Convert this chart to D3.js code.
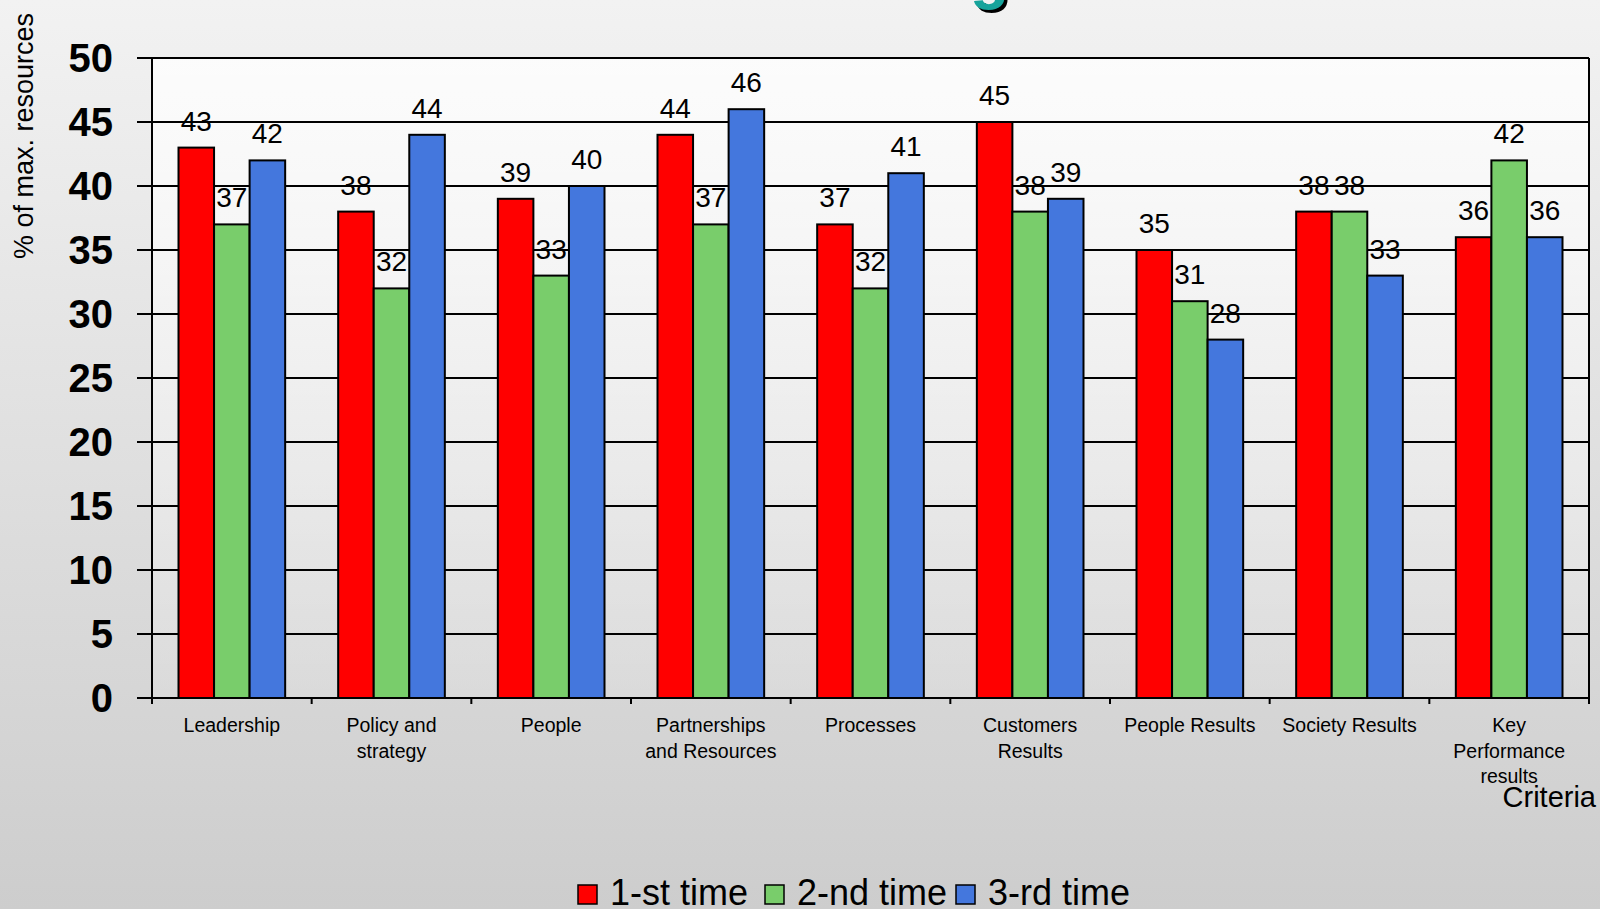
<!DOCTYPE html>
<html>
<head>
<meta charset="utf-8">
<script src="https://cdn.jsdelivr.net/npm/d3@7"></script>
<style>
  html, body { margin: 0; padding: 0; overflow: hidden; }
  svg { display: block; font-family: "Liberation Sans", Arial, sans-serif; }
</style>
</head>
<body>
<svg width="1600" height="909"></svg>
<script>
var categories = [
    ["Leadership"],
    ["Policy and", "strategy"],
    ["People"],
    ["Partnerships", "and Resources"],
    ["Processes"],
    ["Customers", "Results"],
    ["People Results"],
    ["Society Results"],
    ["Key", "Performance", "results"]
];
var seriesNames = ["1-st time", "2-nd time", "3-rd time"];
var firstTime  = [43, 38, 39, 44, 37, 45, 35, 38, 36];
var secondTime = [37, 32, 33, 37, 32, 38, 31, 38, 42];
var thirdTime  = [42, 44, 40, 46, 41, 39, 28, 33, 36];
var yTicks = [0, 5, 10, 15, 20, 25, 30, 35, 40, 45, 50];
var colors = ["#ff0000", "#79cd6b", "#4477dd"];

var svg = d3.select("svg"),
    width = +svg.attr("width"),
    height = +svg.attr("height");

var series = [firstTime, secondTime, thirdTime];
var catKeys = categories.map(function (c) { return c.join(" "); });

// background
var defs = svg.append("defs");
var bg = defs.append("linearGradient").attr("id", "bg")
    .attr("x1", 0).attr("y1", 0).attr("x2", 0).attr("y2", 1);
bg.append("stop").attr("offset", "0%").attr("stop-color", "#f2f2f2");
bg.append("stop").attr("offset", "100%").attr("stop-color", "#cdcdcd");
var pg = defs.append("linearGradient").attr("id", "plotbg")
    .attr("x1", 0).attr("y1", 0).attr("x2", 0).attr("y2", 1);
pg.append("stop").attr("offset", "0%").attr("stop-color", "#ffffff").attr("stop-opacity", 0.8);
pg.append("stop").attr("offset", "100%").attr("stop-color", "#ffffff").attr("stop-opacity", 0.1);

svg.append("rect").attr("width", width).attr("height", height).attr("fill", "url(#bg)");

// cut-off title glyph at the very top
svg.append("text").attr("x", 973).attr("y", 0)
    .attr("font-size", 64).attr("font-weight", "bold").attr("fill", "#000")
    .text("g");
svg.append("text").attr("x", 970).attr("y", -3)
    .attr("font-size", 64).attr("font-weight", "bold").attr("fill", "#17a39b")
    .text("g");

var plotLeft = 152, plotRight = 1589, plotTop = 58, plotBottom = 698;

var x0 = d3.scaleBand().domain(catKeys).range([plotLeft, plotRight]);
var x1 = d3.scaleBand().domain(d3.range(3))
    .range([26.5, x0.bandwidth() - 26.5]);
var y = d3.scaleLinear().domain([0, 50]).range([plotBottom, plotTop]);

svg.append("rect").attr("x", plotLeft).attr("y", plotTop)
    .attr("width", plotRight - plotLeft).attr("height", plotBottom - plotTop)
    .attr("fill", "url(#plotbg)");

// gridlines
svg.append("g").selectAll("line").data(yTicks).enter().append("line")
    .attr("x1", plotLeft - 15).attr("x2", plotRight)
    .attr("y1", function (d) { return y(d); })
    .attr("y2", function (d) { return y(d); })
    .attr("stroke", "#000").attr("stroke-width", 2);

// y tick labels
svg.append("g").selectAll("text").data(yTicks).enter().append("text")
    .attr("x", 113)
    .attr("y", function (d) { return y(d) + 14; })
    .attr("text-anchor", "end")
    .attr("font-size", 40).attr("font-weight", "bold")
    .text(function (d) { return d; });

// bars
var groups = svg.append("g").selectAll("g").data(catKeys).enter().append("g")
    .attr("transform", function (d) { return "translate(" + x0(d) + ",0)"; });

groups.selectAll("rect")
    .data(function (d, i) { return series.map(function (s, k) { return {k: k, v: s[i]}; }); })
    .enter().append("rect")
    .attr("x", function (d) { return x1(d.k); })
    .attr("y", function (d) { return y(d.v); })
    .attr("width", x1.bandwidth())
    .attr("height", function (d) { return y(0) - y(d.v); })
    .attr("fill", function (d) { return colors[d.k]; })
    .attr("stroke", "#000").attr("stroke-width", 2);

groups.selectAll("text.val")
    .data(function (d, i) { return series.map(function (s, k) { return {k: k, v: s[i]}; }); })
    .enter().append("text")
    .attr("class", "val")
    .attr("x", function (d) { return x1(d.k) + x1.bandwidth() / 2; })
    .attr("y", function (d) { return y(d.v) - 17; })
    .attr("text-anchor", "middle")
    .attr("font-size", 28)
    .text(function (d) { return d.v; });

// axes lines
svg.append("line").attr("x1", plotLeft).attr("x2", plotLeft).attr("y1", plotTop).attr("y2", plotBottom + 6)
    .attr("stroke", "#000").attr("stroke-width", 2);
svg.append("line").attr("x1", plotRight).attr("x2", plotRight).attr("y1", plotTop).attr("y2", plotBottom + 6)
    .attr("stroke", "#000").attr("stroke-width", 2);
svg.append("g").selectAll("line").data(catKeys.slice(1)).enter().append("line")
    .attr("x1", function (d) { return x0(d); })
    .attr("x2", function (d) { return x0(d); })
    .attr("y1", plotBottom).attr("y2", plotBottom + 6)
    .attr("stroke", "#000").attr("stroke-width", 2);

// category labels
var cl = svg.append("g").selectAll("text").data(categories).enter().append("text")
    .attr("text-anchor", "middle")
    .attr("font-size", 19.5)
    .attr("x", function (d, i) { return x0(catKeys[i]) + x0.bandwidth() / 2; })
    .attr("y", 732);
cl.selectAll("tspan").data(function (d) { return d; }).enter().append("tspan")
    .attr("x", function () { return d3.select(this.parentNode).attr("x"); })
    .attr("dy", function (d, i) { return i === 0 ? 0 : 25.5; })
    .text(function (d) { return d; });

// axis titles
svg.append("text").attr("transform", "translate(33,136) rotate(-90)")
    .attr("text-anchor", "middle").attr("font-size", 27)
    .text("% of max. resources");
svg.append("text").attr("x", 1596).attr("y", 807)
    .attr("text-anchor", "end").attr("font-size", 29)
    .text("Criteria");

// legend
var legendX = [578, 765, 956];
var lg = svg.append("g").selectAll("g").data(seriesNames).enter().append("g")
    .attr("transform", function (d, i) { return "translate(" + legendX[i] + ",0)"; });
lg.append("rect").attr("x", 0).attr("y", 885).attr("width", 19).attr("height", 19)
    .attr("fill", function (d, i) { return colors[i]; })
    .attr("stroke", "#000").attr("stroke-width", 1.5);
lg.append("text").attr("x", 32).attr("y", 905).attr("font-size", 36)
    .text(function (d) { return d; });
</script>
</body>
</html>
